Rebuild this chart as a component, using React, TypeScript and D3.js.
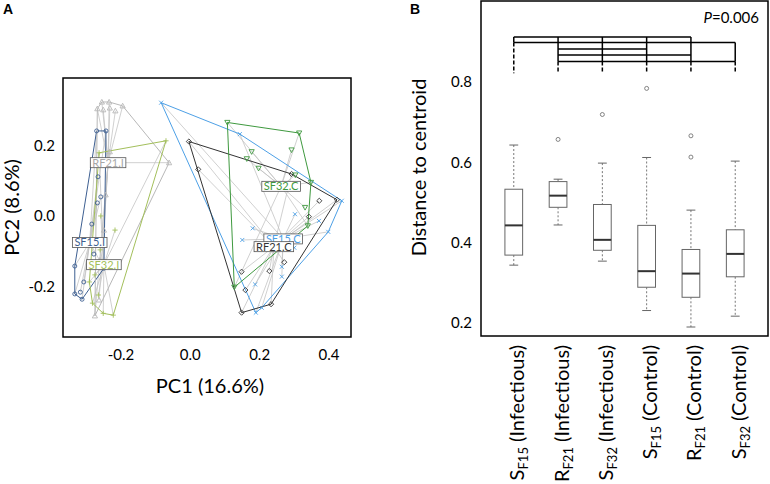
import React from "react";
import * as d3 from "d3";

const FONT = "Lato, 'Open Sans', sans-serif";

// ---------- Panel A : PCoA ----------
const groupNames = ["SF15.I", "RF21.I", "SF32.I", "SF15.C", "RF21.C", "SF32.C"];
const groupColors = ["#3d5f91", "#b8b8b8", "#a3bf5b", "#4da0e6", "#333333", "#3f993f"];
const groupShapes = ["circle", "triangle", "plus", "cross", "diamond", "invtriangle"];

const sf15I: [number, number][] = [
  [-0.27, 0.241], [-0.243, 0.241], [-0.266, 0.111], [-0.258, 0.054], [-0.268, 0.037],
  [-0.284, -0.023], [-0.278, -0.108], [-0.249, -0.148], [-0.307, -0.187], [-0.317, -0.216],
  [-0.333, -0.142], [-0.333, -0.221], [-0.312, -0.236],
];
const rf21I: [number, number][] = [
  [-0.255, 0.323], [-0.234, 0.323], [-0.195, 0.312], [-0.268, 0.304], [-0.232, 0.306],
  [-0.216, 0.298], [-0.251, 0.301], [-0.061, 0.151], [-0.232, 0.182], [-0.249, -0.04],
  [-0.275, -0.283], [-0.26, -0.125], [-0.244, 0.06], [-0.263, -0.238],
];
const sf32I: [number, number][] = [
  [-0.263, 0.179], [-0.07, 0.213], [-0.258, 0.0], [-0.217, -0.04], [-0.291, -0.187],
  [-0.265, -0.224], [-0.282, -0.247], [-0.251, -0.276], [-0.222, -0.281], [-0.26, -0.096],
  [-0.275, -0.167],
];
const sf15C: [number, number][] = [
  [-0.084, 0.321], [0.143, 0.232], [0.437, 0.043], [0.398, -0.045], [0.206, -0.26],
  [0.189, -0.274], [0.302, 0.005], [0.18, -0.035], [0.15, -0.068], [0.371, -0.014],
  [0.3, -0.09], [0.264, -0.144], [0.264, -0.172], [0.187, -0.194],
];
const rf21C: [number, number][] = [
  [-0.004, 0.211], [0.023, 0.132], [0.292, 0.119], [0.423, 0.046], [0.372, 0.043],
  [0.342, -0.002], [0.271, -0.131], [0.228, -0.156], [0.148, -0.158], [0.159, -0.21],
  [0.233, -0.25], [0.148, -0.274],
];
const sf32C: [number, number][] = [
  [0.107, 0.265], [0.314, 0.235], [0.348, 0.095], [0.339, -0.028], [0.127, -0.202],
  [0.177, 0.182], [0.197, 0.135], [0.163, 0.162], [0.292, 0.187], [0.331, 0.024],
  [0.303, 0.116],
];
const groupPoints = [sf15I, rf21I, sf32I, sf15C, rf21C, sf32C];
const groupCentroids: [number, number][] = [
  [-0.29, -0.075], [-0.237, 0.151], [-0.249, -0.138], [0.268, -0.065], [0.241, -0.087], [0.262, 0.084],
];
const pcXTicks = [-0.2, 0.0, 0.2, 0.4];
const pcYTicks = [-0.2, 0.0, 0.2];

// ---------- Panel B : distance to centroid ----------
const boxLetters = ["S", "R", "S", "S", "R", "S"];
const boxSubs = ["F15", "F21", "F32", "F15", "F21", "F32"];
const boxConds = ["Infectious", "Infectious", "Infectious", "Control", "Control", "Control"];
const boxLow = [0.344, 0.444, 0.354, 0.231, 0.19, 0.217];
const boxQ1 = [0.369, 0.488, 0.381, 0.289, 0.264, 0.315];
const boxMed = [0.443, 0.517, 0.407, 0.329, 0.323, 0.372];
const boxQ3 = [0.533, 0.552, 0.495, 0.443, 0.383, 0.432];
const boxHigh = [0.643, 0.558, 0.598, 0.612, 0.481, 0.603];
const boxOutliers = [[], [0.657], [0.719], [0.784], [0.666, 0.613], []];
const distTicks = [0.2, 0.4, 0.6, 0.8];
const comparisons: [number, number][] = [[0, 4], [0, 5], [1, 3], [1, 4], [1, 5]];
const comparisonLevels = [0.912, 0.898, 0.882, 0.867, 0.851];
const bracketBottom = 0.822;

function markerPath(shape: string, x: number, y: number): string {
  const s = 2.6;
  switch (shape) {
    case "circle":
      return `M${x - 2},${y}a2,2 0 1,0 4,0a2,2 0 1,0 -4,0`;
    case "triangle":
      return `M${x},${y - s}L${x + s},${y + s * 0.8}L${x - s},${y + s * 0.8}Z`;
    case "invtriangle":
      return `M${x},${y + s}L${x + s},${y - s * 0.8}L${x - s},${y - s * 0.8}Z`;
    case "plus":
      return `M${x - s},${y}L${x + s},${y}M${x},${y - s}L${x},${y + s}`;
    case "cross":
      return `M${x - 2},${y - 2}L${x + 2},${y + 2}M${x - 2},${y + 2}L${x + 2},${y - 2}`;
    case "diamond":
      return `M${x},${y - s}L${x + s},${y}L${x},${y + s}L${x - s},${y}Z`;
  }
  return "";
}

let measureCtx: CanvasRenderingContext2D | null = null;
function textWidth(t: string, size: number): number {
  if (!measureCtx) measureCtx = document.createElement("canvas").getContext("2d");
  if (!measureCtx) return t.length * size * 0.5;
  measureCtx.font = `${size}px ${FONT}`;
  return measureCtx.measureText(t).width;
}

export default function App() {
  const xA = d3.scaleLinear().domain([-0.367, 0.4635]).range([63, 351]);
  const yA = d3.scaleLinear().domain([-0.343, 0.391]).range([337, 78]);
  const xB = d3.scaleLinear().domain([0.26, 6.74]).range([481, 768]);
  const yB = d3.scaleLinear().domain([0.1676, 1.0016]).range([336, 1]);
  const boxW = xB(1.4) - xB(1);
  const capW = xB(1.2) - xB(1);

  const labelSize = 11;

  return (
    <svg width={770} height={484} style={{ position: "absolute", left: 0, top: 0, fontFamily: FONT }}>
      <rect x={0} y={0} width={770} height={484} fill="#fff" />
      {/* Panel labels */}
      <text x={3} y={14} fontSize={14} fontWeight="bold" fontFamily="'Liberation Sans', Arial, sans-serif">A</text>
      <text x={410} y={14} fontSize={14} fontWeight="bold" fontFamily="'Liberation Sans', Arial, sans-serif">B</text>

      {/* ---------- Panel A ---------- */}
      <g>
        {groupPoints.map((pts, g) =>
          pts.map((p, i) => (
            <line key={`sp${g}-${i}`} x1={xA(groupCentroids[g][0])} y1={yA(groupCentroids[g][1])}
              x2={xA(p[0])} y2={yA(p[1])} stroke="#c4c4c4" strokeWidth={0.8} />
          ))
        )}
        {groupPoints.map((pts, g) => {
          const hull = d3.polygonHull(pts.map((p) => [xA(p[0]), yA(p[1])] as [number, number]));
          return hull ? (
            <path key={`h${g}`} d={`M${hull.map((q) => q.join(",")).join("L")}Z`} fill="none"
              stroke={groupColors[g]} strokeWidth={1} />
          ) : null;
        })}
        {groupPoints.map((pts, g) =>
          pts.map((p, i) => (
            <path key={`pt${g}-${i}`} d={markerPath(groupShapes[g], xA(p[0]), yA(p[1]))} fill="none"
              stroke={groupColors[g]} strokeWidth={0.9} />
          ))
        )}
        {groupNames.map((name, g) => {
          const w = textWidth(name, labelSize) + 4;
          const cx = xA(groupCentroids[g][0]);
          const cy = yA(groupCentroids[g][1]);
          return (
            <g key={`lab${g}`}>
              <rect x={cx - w / 2} y={cy - 5} width={w} height={10} fill="#fff" stroke="#555" strokeWidth={0.8} />
              <text x={cx} y={cy} dy="0.36em" textAnchor="middle" fontSize={labelSize} fill={groupColors[g] === "#b8b8b8" ? "#a8a8a8" : groupColors[g]}>{name}</text>
            </g>
          );
        })}
        <rect x={63} y={78} width={288} height={259} fill="none" stroke="#000" strokeWidth={1.5} />
        {pcXTicks.map((t) => (
          <text key={`xa${t}`} x={xA(t)} y={360} textAnchor="middle" fontSize={15}>{t.toFixed(1)}</text>
        ))}
        {pcYTicks.map((t) => (
          <text key={`ya${t}`} x={55} y={yA(t)} dy="0.35em" textAnchor="end" fontSize={15}>{t.toFixed(1)}</text>
        ))}
        <text x={210} y={393} textAnchor="middle" fontSize={20}>PC1 (16.6%)</text>
        <text transform="translate(11.5,207.5) rotate(-90)" dy="0.35em" textAnchor="middle" fontSize={20}>PC2 (8.6%)</text>
      </g>

      {/* ---------- Panel B ---------- */}
      <g>
        {boxMed.map((m, i) => {
          const cx = xB(i + 1);
          return (
            <g key={`box${i}`}>
              <line x1={cx} x2={cx} y1={yB(boxHigh[i])} y2={yB(boxQ3[i])} stroke="#777" strokeWidth={1} strokeDasharray="2,2" />
              <line x1={cx} x2={cx} y1={yB(boxQ1[i])} y2={yB(boxLow[i])} stroke="#777" strokeWidth={1} strokeDasharray="2,2" />
              <line x1={cx - capW / 2} x2={cx + capW / 2} y1={yB(boxHigh[i])} y2={yB(boxHigh[i])} stroke="#666" strokeWidth={1} />
              <line x1={cx - capW / 2} x2={cx + capW / 2} y1={yB(boxLow[i])} y2={yB(boxLow[i])} stroke="#666" strokeWidth={1} />
              <rect x={cx - boxW / 2} y={yB(boxQ3[i])} width={boxW} height={yB(boxQ1[i]) - yB(boxQ3[i])}
                fill="#fff" stroke="#666" strokeWidth={1} />
              <line x1={cx - boxW / 2} x2={cx + boxW / 2} y1={yB(m)} y2={yB(m)} stroke="#333" strokeWidth={2} />
              {boxOutliers[i].map((o, k) => (
                <circle key={k} cx={cx} cy={yB(o)} r={2} fill="none" stroke="#666" strokeWidth={0.8} />
              ))}
            </g>
          );
        })}
        {comparisons.map(([a, b], k) => (
          <line key={`cmp${k}`} x1={xB(a + 1)} x2={xB(b + 1)} y1={yB(comparisonLevels[k])} y2={yB(comparisonLevels[k])}
            stroke="#000" strokeWidth={1.5} />
        ))}
        {boxMed.map((_, i) => {
          const levels = comparisons
            .map(([a, b], k) => (a <= i && i <= b ? comparisonLevels[k] : null))
            .filter((v) => v !== null) as number[];
          if (!levels.length) return null;
          const top = Math.max(...levels);
          const low = Math.min(...levels);
          const cx = xB(i + 1);
          return (
            <g key={`v${i}`}>
              <line x1={cx} x2={cx} y1={yB(top)} y2={yB(low)} stroke="#000" strokeWidth={1.5} />
              <line x1={cx} x2={cx} y1={yB(low)} y2={yB(bracketBottom)} stroke="#000" strokeWidth={1.5} strokeDasharray="4,2" />
            </g>
          );
        })}
        <rect x={481} y={1} width={287} height={335} fill="none" stroke="#000" strokeWidth={1.5} />
        {distTicks.map((t) => (
          <text key={`yb${t}`} x={472} y={yB(t)} dy="0.35em" textAnchor="end" fontSize={15}>{t.toFixed(1)}</text>
        ))}
        <text x={759} y={23} textAnchor="end" fontSize={15}>
          <tspan fontStyle="italic">P</tspan>=0.006
        </text>
        <text transform="translate(419,167.5) rotate(-90)" dy="0.35em" textAnchor="middle" fontSize={20}>Distance to centroid</text>
        {boxLetters.map((l, i) => (
          <text key={`xl${i}`} transform={`translate(${xB(i + 1) + 10.5},345) rotate(-90)`} textAnchor="end" fontSize={20}>
            {l}
            <tspan fontSize={13} dy={4}>{boxSubs[i]}</tspan>
            <tspan dy={-4}>{` (${boxConds[i]})`}</tspan>
          </text>
        ))}
      </g>
    </svg>
  );
}
